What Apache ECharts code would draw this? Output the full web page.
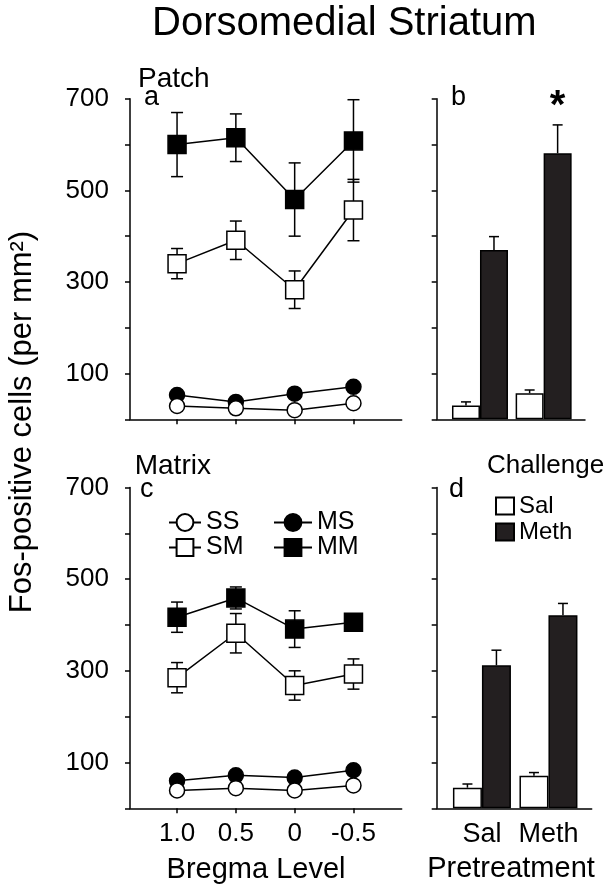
<!DOCTYPE html>
<html><head><meta charset="utf-8">
<script src="https://cdn.jsdelivr.net/npm/echarts@6/dist/echarts.min.js"></script>
<style>html,body{margin:0;padding:0;background:#fff}#c{width:615px;height:896px}</style>
</head><body><div id="c"></div>
<script>
// ---- data ----
const bregma = [1.0, 0.5, 0, -0.5];
const bregmaLabels = ['1.0', '0.5', '0', '-0.5'];
const yLabelValues = [100, 300, 500, 700];

const patchSS = [29, 24, 20, 35];
const patchMS = [53, 38, 56, 71];
const patchSM = [340, 391, 283, 457];
const patchSMErr = [33, 42, 41, 67];
const patchMM = [600, 615, 480, 608];
const patchMMErr = [70, 52, 80, 90];

const matrixSS = [39, 44, 39, 50];
const matrixMS = [60, 72, 67, 83];
const matrixSM = [285, 382, 268, 293];
const matrixSMErr = [33, 43, 32, 33];
const matrixMM = [417, 459, 391, 406];
const matrixMMErr = [33, 24, 40, 18];

const pretreat = ['Sal', 'Meth'];
const patchBarSal = [30, 57];
const patchBarSalErr = [8, 7];
const patchBarMeth = [370, 581];
const patchBarMethErr = [29, 62];
const sigPatch = ['', '*'];
const matrixBarSal = [45, 71];
const matrixBarSalErr = [8, 7];
const matrixBarMeth = [312, 421];
const matrixBarMethErr = [33, 26];

// ---- chart ----
const FONT = "'Liberation Sans', Arial, Helvetica, sans-serif";
const BLACK = '#000';
const BARBLACK = '#231f20';
const LW = 1.5;
const chart = echarts.init(document.getElementById('c'), null, {renderer: 'canvas'});

const grids = [
  {left: 130, top: 98.8, width: 271.7, height: 320.5},
  {left: 436.7, top: 98.8, width: 148.3, height: 320.5},
  {left: 130, top: 487.5, width: 271.7, height: 320.8},
  {left: 436.7, top: 487.5, width: 155, height: 320.8}
];

function lineX(gi, showLabels) {
  return {
    type: 'value', gridIndex: gi, min: -0.91, max: 1.4, inverse: true,
    axisLine: {show: true, onZero: false, lineStyle: {color: BLACK, width: LW}},
    axisTick: {show: true, inside: false, length: 5, customValues: bregma, lineStyle: {color: BLACK, width: LW}},
    axisLabel: {show: showLabels, customValues: bregma, margin: 13, color: BLACK, fontSize: 26, fontFamily: FONT,
      formatter: v => { const i = bregma.indexOf(v); return i >= 0 ? bregmaLabels[i] : ''; }},
    splitLine: {show: false}
  };
}
function barX(gi, showLabels) {
  const idx = pretreat.map((_, i) => i);
  return {
    type: 'value', gridIndex: gi, min: -0.68, max: 1.65,
    axisLine: {show: true, onZero: false, lineStyle: {color: BLACK, width: LW}},
    axisTick: {show: false},
    axisLabel: {show: showLabels, customValues: idx, margin: 13, color: BLACK, fontSize: 27, fontFamily: FONT,
      formatter: v => pretreat[Math.round(v)] || ''},
    splitLine: {show: false}
  };
}
function yAx(gi, showLabels) {
  return {
    type: 'value', gridIndex: gi, min: 0, max: 700, interval: 100,
    axisLine: {show: true, onZero: false, lineStyle: {color: BLACK, width: LW}},
    axisTick: {show: true, inside: false, length: 5, lineStyle: {color: BLACK, width: LW}},
    axisLabel: {show: showLabels, margin: 21, color: BLACK, fontSize: 26, fontFamily: FONT,
      formatter: v => yLabelValues.indexOf(v) >= 0 ? String(v) : ''},
    splitLine: {show: false}
  };
}

function lineSeries(name, values, ai, symbol, size, filled, z) {
  return {
    type: 'line', name: name, xAxisIndex: ai, yAxisIndex: ai, z: z,
    data: bregma.map((b, i) => [b, values[i]]),
    symbol: symbol, symbolSize: size, showAllSymbol: true,
    lineStyle: {color: BLACK, width: LW},
    itemStyle: {color: filled ? BLACK : '#fff', borderColor: BLACK, borderWidth: LW},
    emphasis: {disabled: true}, animation: false
  };
}

function errBars(ai, xs, means, errs, offsetPx, capW, both, z) {
  return {
    type: 'custom', xAxisIndex: ai, yAxisIndex: ai, z: z, silent: true, animation: false,
    data: xs.map((x, i) => [x, means[i], errs[i]]),
    renderItem: (params, api) => {
      const x = api.value(0), m = api.value(1), e = api.value(2);
      const p1 = api.coord([x, m + e]);
      const p0 = api.coord([x, both ? m - e : m]);
      const cx = p1[0] + offsetPx, h = capW / 2;
      const st = {stroke: BLACK, lineWidth: LW};
      const ch = [
        {type: 'line', shape: {x1: cx, y1: p0[1], x2: cx, y2: p1[1]}, style: st},
        {type: 'line', shape: {x1: cx - h, y1: p1[1], x2: cx + h, y2: p1[1]}, style: st}
      ];
      if (both) ch.push({type: 'line', shape: {x1: cx - h, y1: p0[1], x2: cx + h, y2: p0[1]}, style: st});
      return {type: 'group', children: ch};
    }
  };
}

function barSeries(name, values, ai, filled, bw, extra) {
  return Object.assign({
    type: 'bar', name: name, xAxisIndex: ai, yAxisIndex: ai, z: 2,
    data: values.map((v, i) => [i, v]),
    barWidth: bw, barGap: '0%',
    itemStyle: {color: filled ? BARBLACK : '#fff', borderColor: BLACK, borderWidth: LW},
    emphasis: {disabled: true}, animation: false
  }, extra || {});
}

const BW_B = 28, BW_D = 29;
const series = [
  // panel a
  errBars(0, bregma, patchMM, patchMMErr, 0, 12, true, 1),
  errBars(0, bregma, patchSM, patchSMErr, 0, 12, true, 1),
  lineSeries('MM', patchMM, 0, 'rect', 18, true, 3),
  lineSeries('SM', patchSM, 0, 'rect', 18, false, 3),
  lineSeries('MS', patchMS, 0, 'circle', 15, true, 3),
  lineSeries('SS', patchSS, 0, 'circle', 15, false, 4),
  // panel c
  errBars(2, bregma, matrixMM, matrixMMErr, 0, 12, true, 1),
  errBars(2, bregma, matrixSM, matrixSMErr, 0, 12, true, 1),
  lineSeries('MM', matrixMM, 2, 'rect', 18, true, 3),
  lineSeries('SM', matrixSM, 2, 'rect', 18, false, 3),
  lineSeries('MS', matrixMS, 2, 'circle', 15, true, 3),
  lineSeries('SS', matrixSS, 2, 'circle', 15, false, 4),
  // panel b
  barSeries('Sal', patchBarSal, 1, false, BW_B),
  barSeries('Meth', patchBarMeth, 1, true, BW_B, {
    label: {show: true, position: 'top', distance: 26, color: BLACK, fontSize: 40, fontWeight: 'bold', fontFamily: FONT,
      formatter: p => sigPatch[p.dataIndex]}
  }),
  errBars(1, pretreat.map((_, i) => i), patchBarSal, patchBarSalErr, -BW_B / 2, 10, false, 3),
  errBars(1, pretreat.map((_, i) => i), patchBarMeth, patchBarMethErr, BW_B / 2, 10, false, 3),
  // panel d
  barSeries('Sal', matrixBarSal, 3, false, BW_D),
  barSeries('Meth', matrixBarMeth, 3, true, BW_D),
  errBars(3, pretreat.map((_, i) => i), matrixBarSal, matrixBarSalErr, -BW_D / 2, 10, false, 3),
  errBars(3, pretreat.map((_, i) => i), matrixBarMeth, matrixBarMethErr, BW_D / 2, 10, false, 3)
];

const legendText = {color: BLACK, fontSize: 25, fontFamily: FONT};
const option = {
  backgroundColor: '#fff',
  animation: false,
  grid: grids,
  xAxis: [lineX(0, false), barX(1, false), lineX(2, true), barX(3, true)],
  yAxis: [yAx(0, true), yAx(1, false), yAx(2, true), yAx(3, false)],
  legend: [
    {data: ['SS', 'SM'], orient: 'vertical', left: 163, top: 505, itemWidth: 32, itemHeight: 21, itemGap: 0,
      selectedMode: false, textStyle: legendText},
    {data: ['MS', 'MM'], orient: 'vertical', left: 268, top: 505, itemWidth: 38, itemHeight: 21, itemGap: 0,
      selectedMode: false, textStyle: legendText},
    {data: ['Sal', 'Meth'], orient: 'vertical', left: 490, top: 489, itemWidth: 18, itemHeight: 17, itemGap: 2,
      icon: 'rect', selectedMode: false, textStyle: {color: BLACK, fontSize: 24, fontFamily: FONT}}
  ],
  graphic: [
    {type: 'text', left: 152, top: 4, style: {text: 'Dorsomedial Striatum', fill: BLACK, fontSize: 40, fontFamily: FONT}},
    {type: 'text', x: 138, y: 79.7, style: {text: 'Patch', fill: BLACK, fontSize: 28, fontFamily: FONT, verticalAlign: 'middle'}},
    {type: 'text', x: 134.7, y: 466.4, style: {text: 'Matrix', fill: BLACK, fontSize: 28, fontFamily: FONT, verticalAlign: 'middle'}},
    {type: 'text', x: 144, y: 98, style: {text: 'a', fill: BLACK, fontSize: 27, fontFamily: FONT, verticalAlign: 'middle'}},
    {type: 'text', x: 451, y: 98, style: {text: 'b', fill: BLACK, fontSize: 27, fontFamily: FONT, verticalAlign: 'middle'}},
    {type: 'text', x: 140, y: 490, style: {text: 'c', fill: BLACK, fontSize: 27, fontFamily: FONT, verticalAlign: 'middle'}},
    {type: 'text', x: 449, y: 490, style: {text: 'd', fill: BLACK, fontSize: 27, fontFamily: FONT, verticalAlign: 'middle'}},
    {type: 'text', x: 487, y: 466, style: {text: 'Challenge', fill: BLACK, fontSize: 26, fontFamily: FONT, verticalAlign: 'middle'}},
    {type: 'text', x: 256, y: 870, style: {text: 'Bregma Level', fill: BLACK, fontSize: 29, fontFamily: FONT, align: 'center', verticalAlign: 'middle'}},
    {type: 'text', x: 511, y: 869, style: {text: 'Pretreatment', fill: BLACK, fontSize: 29, fontFamily: FONT, align: 'center', verticalAlign: 'middle'}},
    {type: 'text', x: 22, y: 422, rotation: Math.PI / 2,
      style: {text: 'Fos-positive cells (per mm²)', fill: BLACK, fontSize: 31, fontFamily: FONT, align: 'center', verticalAlign: 'middle'}}
  ],
  series: series
};
chart.setOption(option);
</script>
</body></html>
